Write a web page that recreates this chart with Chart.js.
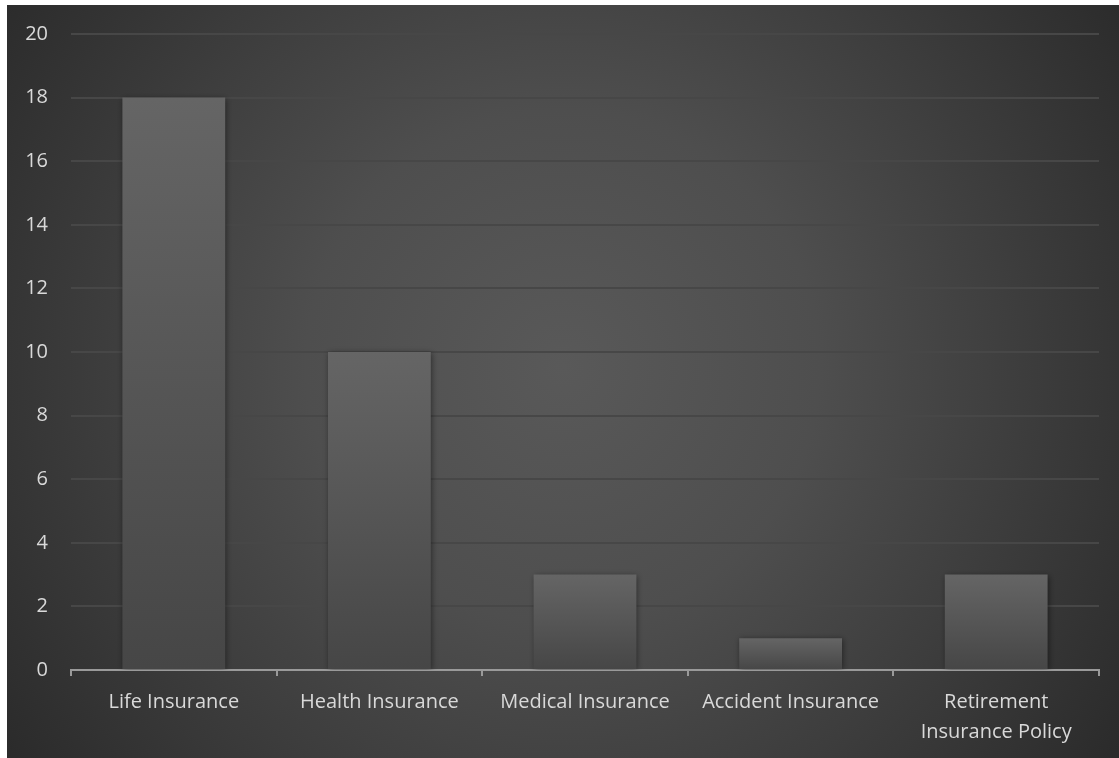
<!DOCTYPE html>
<html>
<head>
<meta charset="utf-8">
<script src="https://cdn.jsdelivr.net/npm/chart.js@4/dist/chart.umd.min.js"></script>
<style>
  html, body { margin: 0; padding: 0; background: #ffffff; }
  #wrap { position: absolute; left: 7px; top: 5px; width: 1112px; height: 753px; }
</style>
</head>
<body>
<div id="wrap"><canvas id="chart"></canvas></div>
<script>
const categories = ['Life Insurance', 'Health Insurance', 'Medical Insurance', 'Accident Insurance', ['Retirement', 'Insurance Policy']];
const policies = [18, 10, 3, 1, 3];
const yTicks = [0, 2, 4, 6, 8, 10, 12, 14, 16, 18, 20];

// dark radial backdrop behind the plot
const backdrop = {
  id: 'backdrop',
  beforeDraw(chart) {
    const c = chart.ctx;
    const w = chart.width, h = chart.height;
    const g = c.createRadialGradient(w * 0.5, h * 0.48, 0, w * 0.5, h * 0.48, w * 0.66);
    g.addColorStop(0, '#595959');
    g.addColorStop(0.35, '#4e4e4e');
    g.addColorStop(1, '#262626');
    c.save();
    c.fillStyle = g;
    c.fillRect(0, 0, w, h);
    c.restore();
  }
};

// soft shadow under the bars
const barShadow = {
  id: 'barShadow',
  beforeDatasetsDraw(chart) {
    const c = chart.ctx;
    c.save();
    c.shadowColor = 'rgba(0,0,0,0.45)';
    c.shadowBlur = 6;
    c.shadowOffsetX = 1;
    c.shadowOffsetY = 1;
  },
  afterDatasetsDraw(chart) {
    chart.ctx.restore();
  }
};

function barFill(context) {
  const chart = context.chart;
  if (!chart.chartArea) return '#555555';
  const y = chart.scales.y;
  const top = y.getPixelForValue(context.raw);
  const bottom = y.getPixelForValue(0);
  const g = chart.ctx.createLinearGradient(0, top, 0, bottom);
  g.addColorStop(0, '#656565');
  g.addColorStop(1, '#464646');
  return g;
}

const fontFamily = '"Open Sans", sans-serif';

new Chart(document.getElementById('chart'), {
  type: 'bar',
  data: {
    labels: categories,
    datasets: [{
      data: policies,
      backgroundColor: barFill,
      borderWidth: 0,
      categoryPercentage: 0.5,
      barPercentage: 1
    }]
  },
  plugins: [backdrop, barShadow],
  options: {
    responsive: true,
    maintainAspectRatio: false,
    animation: false,
    layout: { padding: { left: 0, right: 20, top: 29, bottom: 0 } },
    plugins: {
      legend: { display: false },
      tooltip: { enabled: false }
    },
    scales: {
      x: {
        offset: true,
        grid: {
          offset: true,
          drawOnChartArea: false,
          color: '#9a9a9a',
          lineWidth: 2,
          tickLength: 6
        },
        border: { color: '#9a9a9a', width: 2 },
        ticks: {
          color: '#d9d9d9',
          font: { family: fontFamily, size: 20, lineHeight: 1.5 },
          padding: 11,
          maxRotation: 0,
          autoSkip: false
        },
        afterFit(scale) { scale.height = 88; }
      },
      y: {
        min: 0,
        max: 20,
        afterBuildTicks(scale) { scale.ticks = yTicks.map(v => ({ value: v })); },
        grid: {
          color: '#474747',
          lineWidth: 2,
          drawTicks: false
        },
        border: { display: false },
        ticks: {
          color: '#d9d9d9',
          font: { family: fontFamily, size: 20 },
          padding: 23
        },
        afterFit(scale) {
          scale.width = 64;
          scale.paddingTop = 0;
          scale.paddingBottom = 0;
        }
      }
    }
  }
});
</script>
</body>
</html>
